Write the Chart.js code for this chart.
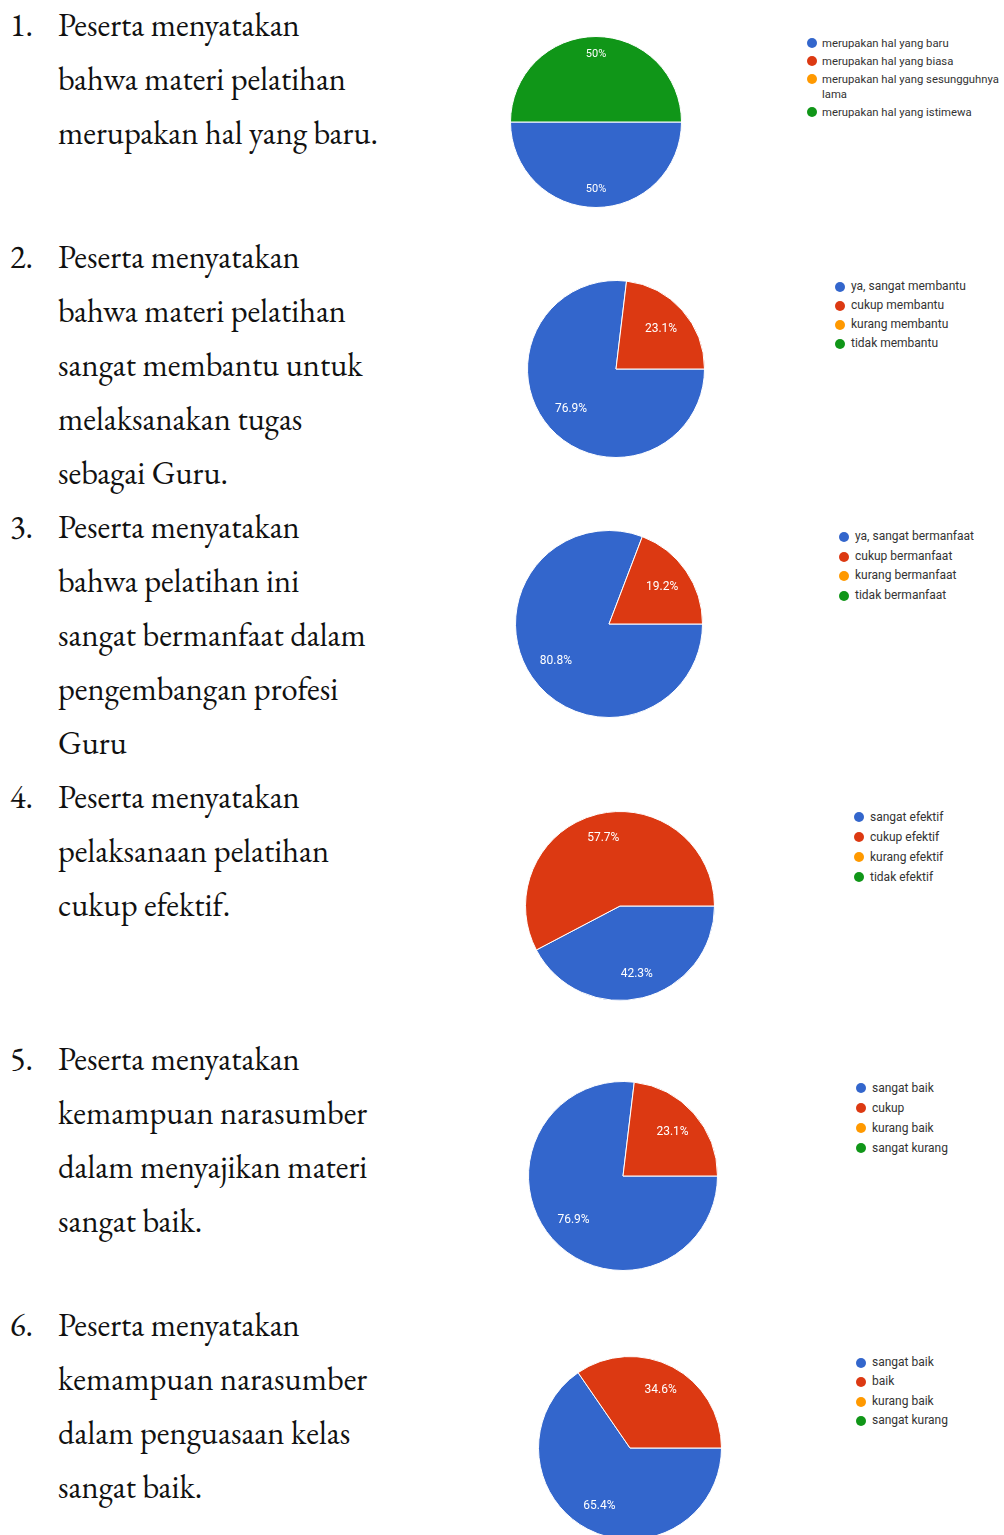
<!DOCTYPE html>
<html lang="id">
<head>
    <meta charset="UTF-8">
    <title>Hasil Angket Peserta</title>
    <style>
        html, body {
            margin: 0;
            padding: 0;
            background: #fff;
            width: 1004px;
            height: 1535px;
            overflow: hidden;
        }
        .item {
            position: absolute;
            left: 0;
            font-family: "EB Garamond", Garamond, "Liberation Serif", "DejaVu Serif", serif;
            font-size: 32.5px;
            line-height: 54px;
            color: #111;
        }
        .item .num {
            position: absolute;
            left: 10px;
            top: 0;
        }
        .item .txt {
            position: absolute;
            left: 58px;
            top: 0;
            white-space: nowrap;
        }
        .pie {
            position: absolute;
        }
        .legend {
            position: absolute;
            font-family: Roboto, Arial, sans-serif;
            color: #333;
        }
        .legend div {
            position: relative;
        }
        .legend .dot {
            position: absolute;
            left: 0;
            width: 10px;
            height: 10px;
            border-radius: 50%;
        }
    </style>
    <script src="https://cdn.jsdelivr.net/npm/chart.js"></script>
</head>
<body>
    <div id="page"></div>
    <script>
        // google forms palette
        const colors = ['#3366cc', '#dc3912', '#ff9900', '#109618'];

        const labels1 = ['merupakan hal yang baru', 'merupakan hal yang biasa', 'merupakan hal yang sesungguhnya lama', 'merupakan hal yang istimewa'];
        const values1 = [50, 0, 0, 50];

        const labels2 = ['ya, sangat membantu', 'cukup membantu', 'kurang membantu', 'tidak membantu'];
        const values2 = [76.9, 23.1, 0, 0];

        const labels3 = ['ya, sangat bermanfaat', 'cukup bermanfaat', 'kurang bermanfaat', 'tidak bermanfaat'];
        const values3 = [80.8, 19.2, 0, 0];

        const labels4 = ['sangat efektif', 'cukup efektif', 'kurang efektif', 'tidak efektif'];
        const values4 = [42.3, 57.7, 0, 0];

        const labels5 = ['sangat baik', 'cukup', 'kurang baik', 'sangat kurang'];
        const values5 = [76.9, 23.1, 0, 0];

        const labels6 = ['sangat baik', 'baik', 'kurang baik', 'sangat kurang'];
        const values6 = [65.4, 34.6, 0, 0];

        const statements = [
            ['Peserta menyatakan', 'bahwa materi pelatihan', 'merupakan hal yang baru.'],
            ['Peserta menyatakan', 'bahwa materi pelatihan', 'sangat membantu untuk', 'melaksanakan tugas', 'sebagai Guru.'],
            ['Peserta menyatakan', 'bahwa pelatihan ini', 'sangat bermanfaat dalam', 'pengembangan profesi', 'Guru'],
            ['Peserta menyatakan', 'pelaksanaan pelatihan', 'cukup efektif.'],
            ['Peserta menyatakan', 'kemampuan narasumber', 'dalam menyajikan materi', 'sangat baik.'],
            ['Peserta menyatakan', 'kemampuan narasumber', 'dalam penguasaan kelas', 'sangat baik.']
        ];

        // layout of each block: text top, pie centre/radius, legend box
        const blocks = [
            { top: -2, cx: 596, cy: 122, r: 85, lx: 807, ly: 34, row: 18, fs: 11.3, lw: 197, labelAt: 0.79, labels: labels1, values: values1 },
            { top: 230, cx: 616, cy: 369, r: 88, lx: 835, ly: 277, row: 19, fs: 12, lw: 169, labelAt: 0.68, labels: labels2, values: values2 },
            { top: 500, cx: 609, cy: 624, r: 93, lx: 839, ly: 527, row: 19.7, fs: 12, lw: 165, labelAt: 0.69, labels: labels3, values: values3 },
            { top: 770, cx: 620, cy: 906, r: 94, lx: 854, ly: 807, row: 20, fs: 12, lw: 150, labelAt: 0.74, labels: labels4, values: values4 },
            { top: 1032, cx: 623, cy: 1176, r: 94, lx: 856, ly: 1078, row: 20, fs: 12, lw: 148, labelAt: 0.7, labels: labels5, values: values5 },
            { top: 1298, cx: 630, cy: 1448, r: 91, lx: 856, ly: 1353, row: 19.4, fs: 12, lw: 148, labelAt: 0.72, labels: labels6, values: values6 }
        ];

        // percentage text inside the slices
        const sliceLabels = {
            id: 'sliceLabels',
            afterDatasetsDraw(chart, args, opts) {
                const ctx = chart.ctx;
                const meta = chart.getDatasetMeta(0);
                const data = chart.data.datasets[0].data;
                ctx.save();
                ctx.font = opts.size + 'px Roboto, Arial, sans-serif';
                ctx.fillStyle = '#fff';
                ctx.textAlign = 'center';
                ctx.textBaseline = 'middle';
                meta.data.forEach((arc, i) => {
                    if (!data[i]) return;
                    const p = arc.getProps(['x', 'y', 'startAngle', 'endAngle', 'outerRadius'], true);
                    const mid = (p.startAngle + p.endAngle) / 2;
                    const d = p.outerRadius * opts.at;
                    ctx.fillText(data[i] + '%', p.x + Math.cos(mid) * d, p.y + Math.sin(mid) * d);
                });
                ctx.restore();
            }
        };

        const page = document.getElementById('page');

        blocks.forEach((b, n) => {
            // statement text
            const item = document.createElement('div');
            item.className = 'item';
            item.style.top = b.top + 'px';
            item.innerHTML = `<span class="num">${n + 1}.</span><span class="txt">${statements[n].join('<br>')}</span>`;
            page.appendChild(item);

            // pie
            const size = 2 * b.r + 2;
            const canvas = document.createElement('canvas');
            canvas.className = 'pie';
            canvas.width = size;
            canvas.height = size;
            canvas.style.left = (b.cx - b.r - 1) + 'px';
            canvas.style.top = (b.cy - b.r - 1) + 'px';
            canvas.style.width = size + 'px';
            canvas.style.height = size + 'px';
            page.appendChild(canvas);

            new Chart(canvas, {
                type: 'pie',
                data: {
                    labels: b.labels,
                    datasets: [{
                        data: b.values,
                        backgroundColor: colors,
                        borderColor: '#fff',
                        borderWidth: 1
                    }]
                },
                options: {
                    responsive: false,
                    animation: false,
                    rotation: 90,
                    layout: { padding: 0 },
                    plugins: {
                        legend: { display: false },
                        tooltip: { enabled: false },
                        sliceLabels: { size: n === 0 ? 11 : 12, at: b.labelAt }
                    }
                },
                plugins: [sliceLabels]
            });

            // legend
            const first = n === 0;
            const leg = document.createElement('div');
            leg.className = 'legend';
            leg.style.left = b.lx + 'px';
            leg.style.top = b.ly + 'px';
            leg.style.width = b.lw + 'px';
            leg.style.fontSize = b.fs + 'px';
            leg.style.lineHeight = (first ? 15 : b.row) + 'px';
            b.labels.forEach((lab, i) => {
                const row = document.createElement('div');
                row.style.paddingLeft = (first ? 15 : 16) + 'px';
                if (first) {
                    row.style.paddingTop = '1.5px';
                    row.style.paddingBottom = '1.5px';
                }
                const dot = document.createElement('span');
                dot.className = 'dot';
                dot.style.background = colors[i];
                dot.style.top = (first ? 4 : (b.row - 10) / 2) + 'px';
                row.appendChild(dot);
                row.appendChild(document.createTextNode(lab));
                leg.appendChild(row);
            });
            page.appendChild(leg);
        });
    </script>
</body>
</html>
